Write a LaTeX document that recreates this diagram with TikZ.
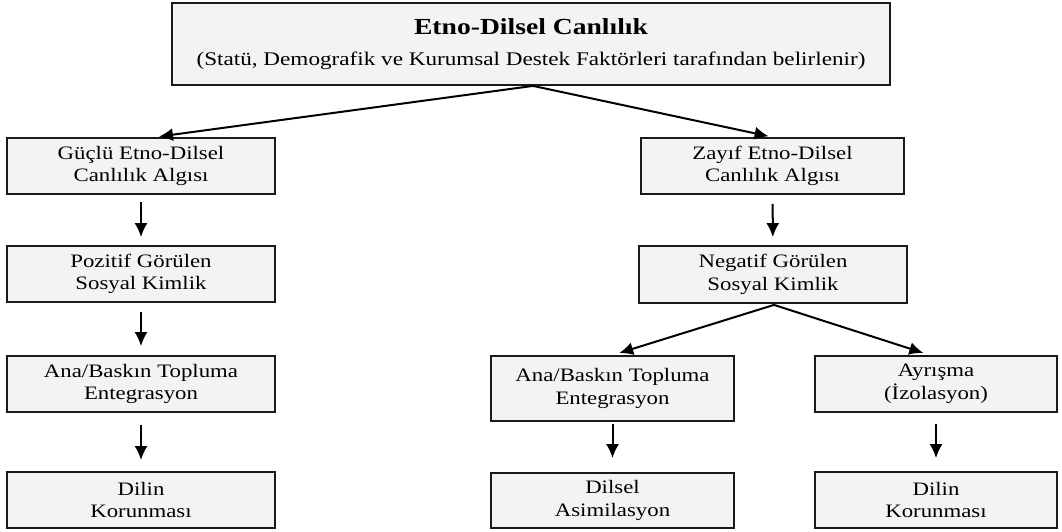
\documentclass[tikz,border=0pt]{standalone}
\usepackage{fontspec}
\setmainfont[FakeStretch=1.2]{Liberation Serif}
\usetikzlibrary{arrows.meta,positioning,calc}
\definecolor{boxfill}{HTML}{F3F3F3}
\definecolor{boxline}{HTML}{1A1A1A}
\tikzset{
  box/.style={draw=boxline, fill=boxfill, line width=1.8pt, inner sep=0pt,
    align=center, font=\fontsize{19}{22.5}\selectfont},
  conn/.style={line width=2pt, -{Latex[length=14pt,width=13pt]}}
}
\begin{document}
\begin{tikzpicture}[x=1pt,y=-1pt]
\useasboundingbox (0,0) rectangle (1062,532);
% top
\node[box, minimum width=718pt, minimum height=82pt] (top) at (531,44)
  {{\fontsize{23}{26}\selectfont\bfseries Etno-Dilsel Canlılık}\\[8pt]
   {\fontsize{19.3}{22}\selectfont (Statü, Demografik ve Kurumsal Destek Faktörleri tarafından belirlenir)}};
% left column
\node[box, minimum width=268pt, minimum height=56pt] (g1) at (141,166) {Güçlü Etno-Dilsel\\Canlılık Algısı};
\node[box, minimum width=268pt, minimum height=56pt] (g2) at (141,274) {Pozitif Görülen\\Sosyal Kimlik};
\node[box, minimum width=268pt, minimum height=56pt] (g3) at (141,384) {Ana/Baskın Topluma\\Entegrasyon};
\node[box, minimum width=268pt, minimum height=56pt] (g4) at (141,500) {Dilin\\Korunması};
% right column
\node[box, minimum width=263pt, minimum height=56pt] (z1) at (772.5,166) {Zayıf Etno-Dilsel\\Canlılık Algısı};
\node[box, minimum width=268pt, minimum height=57pt] (z2) at (773,274.5) {Negatif Görülen\\Sosyal Kimlik};
\node[box, minimum width=243pt, minimum height=65pt] (a1) at (612.5,388.5) {Ana/Baskın Topluma\\Entegrasyon};
\node[box, minimum width=243pt, minimum height=55pt] (a2) at (612.5,500.5) {Dilsel\\Asimilasyon};
\node[box, minimum width=242pt, minimum height=56pt] (b1) at (936,384) {Ayrışma\\(İzolasyon)};
\node[box, minimum width=242pt, minimum height=56pt] (b2) at (936,500) {Dilin\\Korunması};
% connectors
\coordinate (ta) at ($(top.south)+(2,0)$);
\draw[conn, shorten >=4pt] (ta) -- ($(g1.north)+(14,0)$);
\draw[conn, shorten >=4pt] (ta) -- (z1.north);
\draw[conn, shorten <=7pt, shorten >=8pt] (g1) -- (g2);
\draw[conn, shorten <=9pt, shorten >=9pt] (g2) -- (g3);
\draw[conn, shorten <=12pt, shorten >=11pt] (g3) -- (g4);
\draw[conn, shorten <=9pt, shorten >=8pt] (z1) -- (z2);
\coordinate (na) at ($(z2.south)+(1,1)$);
\draw[conn, shorten >=7pt] (na) -- (a1.north);
\draw[conn, shorten >=7pt] (na) -- ($(b1.north)+(-6,0)$);
\draw[conn, shorten <=2pt, shorten >=14pt] (a1) -- (a2);
\draw[conn, shorten <=11pt, shorten >=13pt] (b1) -- (b2);
\end{tikzpicture}
\end{document}
